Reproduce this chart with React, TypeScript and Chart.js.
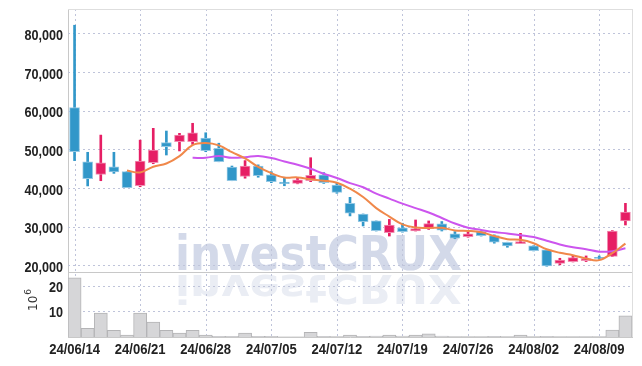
import React, { useEffect, useRef } from 'react';
import { Chart, registerables } from 'chart.js';

Chart.register(...registerables);

const dates = [
  '24/06/14', '24/06/17', '24/06/18', '24/06/19', '24/06/20', '24/06/21',
  '24/06/24', '24/06/25', '24/06/26', '24/06/27', '24/06/28',
  '24/07/01', '24/07/02', '24/07/03', '24/07/04', '24/07/05',
  '24/07/08', '24/07/09', '24/07/10', '24/07/11', '24/07/12',
  '24/07/15', '24/07/16', '24/07/17', '24/07/18', '24/07/19',
  '24/07/22', '24/07/23', '24/07/24', '24/07/25', '24/07/26',
  '24/07/29', '24/07/30', '24/07/31', '24/08/01', '24/08/02',
  '24/08/05', '24/08/06', '24/08/07', '24/08/08', '24/08/09',
  '24/08/12', '24/08/13',
];
// indices of dates that carry an x-axis label
const labelIdx = [0, 5, 10, 15, 20, 25, 30, 35, 40];
const priceTicks = [20000, 30000, 40000, 50000, 60000, 70000, 80000];
const volumeTicks = [10, 20];

const opens = [
  60800, 46800, 43500, 45500, 44250, 40600, 46550, 51750, 52000, 52000, 52900,
  50300, 45400, 43000, 45700, 43400, 41550, 41200, 41900, 43400, 40800,
  36050, 33300, 31500, 28500, 29750, 28900, 29500, 30750, 28150, 27450,
  28750, 27700, 26000, 25650, 25050, 24000, 20550, 21000, 21250, 22100,
  22300, 31500,
];
const highs = [
  82100, 49250, 53700, 49250, 44250, 52400, 55450, 54750, 54150, 56750, 54300,
  51600, 45700, 47100, 46000, 44250, 42550, 42600, 47850, 44000, 41250,
  37600, 33300, 31500, 31900, 30900, 31750, 31500, 31350, 28750, 29000,
  28750, 27900, 26000, 28300, 25100, 24000, 21850, 22450, 22450, 22450,
  29000, 36050,
];
const lows = [
  47100, 40550, 41900, 43800, 40100, 40350, 46300, 48550, 49600, 51300, 49400,
  46800, 41900, 42550, 42800, 41400, 40600, 41100, 41650, 41200, 38650,
  32800, 30200, 28900, 27600, 28600, 28900, 29300, 28900, 26900, 27300,
  27600, 25750, 24700, 25650, 23750, 19800, 20150, 20900, 21000, 21600,
  22300, 30450,
];
const closes = [
  49400, 42400, 46550, 44150, 40100, 47000, 49850, 50700, 53700, 54300, 49700,
  46800, 41900, 45700, 43200, 41650, 41150, 42100, 43300, 41400, 38900,
  33500, 31300, 29000, 30450, 28750, 29500, 30800, 29100, 27050, 28150,
  27700, 26000, 25050, 26150, 23800, 19900, 21400, 22000, 21750, 21800,
  28900, 33800,
];
const ma5 = [
  null, null, null, null, 44520, 44040, 45530, 46360, 48270, 51110, 51650,
  51040, 49280, 47680, 45460, 43850, 42720, 42760, 42280, 41920, 41370,
  39840, 37680, 34820, 32630, 30600, 29800, 29700, 29720, 29040, 28920,
  28560, 27600, 26790, 26610, 25740, 24180, 23260, 22650, 21770, 21370,
  23170, 25650,
];
const ma10 = [
  null, null, null, null, null, null, null, null, null, 47815, 47845,
  48285, 47820, 47975, 48285, 47750, 46880, 46020, 44980, 43690, 42610,
  41280, 40220, 38550, 37275, 35985, 34820, 33690, 32270, 30835, 29760,
  29180, 28650, 28255, 27825, 27330, 26370, 25430, 24720, 24190, 23555,
  23675, 24455,
];
// volume in units of 10^6
const volumes = [
  23.0, 3.4, 9.3, 2.6, 0.7, 9.3, 5.8, 2.6, 1.5, 2.6, 0.7,
  0.3, 0.3, 1.5, 0.3, 0.3, 0.1, 0.1, 1.8, 0.3, 0.2,
  0.7, 0.3, 0.4, 0.7, 0.4, 0.7, 1.2, 0.4, 0.2, 0.2,
  0.2, 0.3, 0.2, 0.7, 0.2, 0.3, 0.2, 0.2, 0.2, 0.2,
  2.7, 8.2,
];

const UP = '#e61e64';
const DOWN = '#3197c9';
const UP_EDGE = '#f08fb2';
const DOWN_EDGE = '#94c8e4';
const GRID = '#bfc4da';
const AXIS = '#c8c8c8';
const LABEL_FONT = "bold 15px 'Liberation Sans', Arial, sans-serif";
const YLABEL_FONT = "bold 14px 'Liberation Sans', Arial, sans-serif";

function drawSqueezed(ctx: any, text: string, x: number, y: number, sx: number, align: string) {
  ctx.save();
  ctx.translate(x, y);
  ctx.scale(sx, 1);
  ctx.textAlign = align;
  ctx.fillText(text, 0, 0);
  ctx.restore();
}

const bgPlugin = {
  id: 'bgwm',
  beforeDraw(chart: any) {
    const { ctx } = chart;
    ctx.save();
    ctx.fillStyle = '#ffffff';
    ctx.fillRect(0, 0, chart.width, chart.height);
    const text = 'investCRUX';
    ctx.font = "bold 48px 'DejaVu Sans', sans-serif";
    const w = ctx.measureText(text).width;
    const sx = 287 / w;
    const x0 = 175;
    ctx.save();
    ctx.translate(x0, 275);
    ctx.scale(sx, -0.8);
    ctx.fillStyle = '#eaedf4';
    ctx.fillText(text, 0, 0);
    ctx.restore();
    ctx.save();
    ctx.translate(x0, 270);
    ctx.scale(sx, 1);
    ctx.fillStyle = '#d3d9e9';
    ctx.fillText(text, 0, 0);
    ctx.restore();
    ctx.restore();
  },
  beforeDatasetsDraw(chart: any) {
    const { ctx, chartArea } = chart;
    const xs = chart.scales.x;
    const ys = chart.scales.y;
    const vs = chart.scales.v;
    ctx.save();
    ctx.lineWidth = 1;
    ctx.strokeStyle = GRID;
    ctx.setLineDash([2, 3]);
    ctx.beginPath();
    labelIdx.forEach((i) => {
      const x = Math.round(xs.getPixelForValue(i)) + 0.5;
      ctx.moveTo(x, chartArea.top);
      ctx.lineTo(x, chartArea.bottom);
    });
    priceTicks.forEach((v) => {
      const y = Math.round(ys.getPixelForValue(v)) + 0.5;
      ctx.moveTo(chartArea.left, y);
      ctx.lineTo(chartArea.right, y);
    });
    volumeTicks.forEach((v) => {
      const y = Math.round(vs.getPixelForValue(v)) + 0.5;
      ctx.moveTo(chartArea.left, y);
      ctx.lineTo(chartArea.right, y);
    });
    ctx.stroke();
    ctx.setLineDash([]);

    const yb = ys.bottom;
    ctx.strokeStyle = '#dedede';
    ctx.beginPath();
    ctx.moveTo(chartArea.left, chartArea.top + 0.5);
    ctx.lineTo(chartArea.right, chartArea.top + 0.5);
    ctx.moveTo(chartArea.right + 0.5, chartArea.top);
    ctx.lineTo(chartArea.right + 0.5, chartArea.bottom);
    ctx.stroke();
    ctx.strokeStyle = AXIS;
    ctx.beginPath();
    ctx.moveTo(chartArea.left, Math.round(yb) + 0.5);
    ctx.lineTo(chartArea.right, Math.round(yb) + 0.5);
    ctx.stroke();
    ctx.restore();
  },
  afterDraw(chart: any) {
    const { ctx, chartArea } = chart;
    const xs = chart.scales.x;
    const ys = chart.scales.y;
    const vs = chart.scales.v;
    ctx.save();
    ctx.fillStyle = '#222';
    ctx.textBaseline = 'alphabetic';
    ctx.font = LABEL_FONT;
    labelIdx.forEach((i) => {
      drawSqueezed(ctx, dates[i], xs.getPixelForValue(i), chartArea.bottom + 17, 0.87, 'center');
    });
    ctx.font = YLABEL_FONT;
    priceTicks.forEach((v) => {
      drawSqueezed(ctx, v.toLocaleString('en-US'), 63, ys.getPixelForValue(v) + 6.5, 0.9, 'right');
    });
    volumeTicks.forEach((v) => {
      drawSqueezed(ctx, String(v), 63, vs.getPixelForValue(v) + 6, 0.9, 'right');
    });
    ctx.restore();

    ctx.save();
    ctx.translate(37, 301);
    ctx.rotate(-Math.PI / 2);
    ctx.fillStyle = '#333';
    ctx.textBaseline = 'alphabetic';
    ctx.font = "12px 'DejaVu Sans', sans-serif";
    ctx.fillText('10', -10, 0);
    const w = ctx.measureText('10').width;
    ctx.font = "9px 'DejaVu Sans', sans-serif";
    ctx.fillText('6', -10 + w + 1, -6);
    ctx.restore();
  },
};

export default function App() {
  const ref = useRef<HTMLCanvasElement>(null);

  useEffect(() => {
    if (!ref.current) return;
    const up = dates.map((_, i) => closes[i] >= opens[i]);
    const colors = up.map((u) => (u ? UP : DOWN));
    const edges = up.map((u) => (u ? UP_EDGE : DOWN_EDGE));
    const chart = new Chart(ref.current, {
      type: 'bar',
      data: {
        labels: dates,
        datasets: [
          {
            type: 'line',
            label: 'MA5',
            data: ma5 as any,
            yAxisID: 'y',
            borderColor: '#f0884a',
            borderWidth: 2,
            pointRadius: 0,
            tension: 0.4,
            order: 0,
          } as any,
          {
            type: 'line',
            label: 'MA10',
            data: ma10 as any,
            yAxisID: 'y',
            borderColor: '#cc55ee',
            borderWidth: 2,
            pointRadius: 0,
            tension: 0.4,
            order: 0,
          } as any,
          {
            label: 'body',
            data: dates.map((_, i) => [opens[i], closes[i]]) as any,
            yAxisID: 'y',
            backgroundColor: colors,
            borderColor: edges,
            borderWidth: 1,
            borderSkipped: false,
            barThickness: 10,
            grouped: false,
            order: 1,
          } as any,
          {
            label: 'wick',
            data: dates.map((_, i) => [lows[i], highs[i]]) as any,
            yAxisID: 'y',
            backgroundColor: colors,
            barThickness: 2,
            grouped: false,
            order: 2,
          } as any,
          {
            label: 'volume',
            data: volumes,
            yAxisID: 'v',
            backgroundColor: '#d6d6d8',
            borderColor: '#b4b4b6',
            borderWidth: 1,
            barPercentage: 1,
            categoryPercentage: 1,
            grouped: false,
            order: 3,
          } as any,
        ],
      },
      options: {
        responsive: false,
        animation: false,
        devicePixelRatio: 1,
        layout: { padding: { top: 9, right: 10, left: 0, bottom: 0 } },
        plugins: { legend: { display: false }, tooltip: { enabled: false } },
        scales: {
          x: {
            type: 'category',
            offset: true,
            grid: { display: false },
            border: { color: AXIS },
            ticks: { display: false, autoSkip: false },
            afterBuildTicks: (s: any) => { s.ticks = labelIdx.map((v) => ({ value: v })); },
            afterFit: (s: any) => { s.height = 29; },
          },
          v: {
            type: 'linear',
            position: 'left',
            stack: 'main',
            stackWeight: 65,
            min: 0,
            max: 25.3,
            grid: { display: false },
            border: { color: AXIS },
            ticks: { display: false },
            afterBuildTicks: (s: any) => { s.ticks = volumeTicks.map((v) => ({ value: v })); },
            afterFit: (s: any) => { s.width = 68; },
          },
          y: {
            type: 'linear',
            position: 'left',
            stack: 'main',
            stackWeight: 263,
            min: 18300,
            max: 86300,
            grid: { display: false },
            border: { color: AXIS },
            ticks: { display: false },
            afterBuildTicks: (s: any) => { s.ticks = priceTicks.map((v) => ({ value: v })); },
            afterFit: (s: any) => { s.width = 68; },
          },
        } as any,
      },
      plugins: [bgPlugin],
    });
    return () => chart.destroy();
  }, []);

  return (
    <div style={{ position: 'fixed', left: 0, top: 0, width: 642, height: 366, background: '#fff' }}>
      <canvas ref={ref} width={642} height={366} style={{ display: 'block' }} />
    </div>
  );
}
